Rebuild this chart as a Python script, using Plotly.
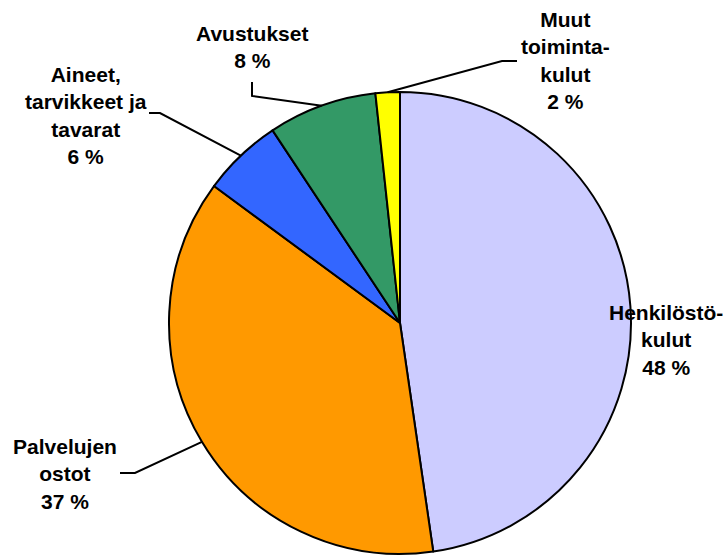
import math
import plotly.graph_objects as go

# ---- data ----
categories = ["Henkilöstökulut", "Palvelujen ostot", "Aineet, tarvikkeet ja tavarat",
              "Avustukset", "Muut toimintakulut"]
label_lines = ["Henkilöstö-<br>kulut", "Palvelujen<br>ostot", "Aineet,<br>tarvikkeet ja<br>tavarat",
               "Avustukset", "Muut<br>toiminta-<br>kulut"]
values = [47.7, 37.4, 5.6, 7.6, 1.7]
colors = ["#CCCCFF", "#FF9900", "#3366FF", "#339966", "#FFFF00"]

# ---- layout helpers (pixels) ----
W, H = 723, 556
CX, CY, R = 400, 323, 231
label_pos = [(666, 340), (65, 474), (86, 115), (252, 47), (565, 60)]
# leader line: start point and elbow point (None = no leader)
leaders = [None, [(120, 473), (135, 473)], [(149, 113), (160, 113)],
           [(252, 82), (252, 96)], [(517, 61), (502, 61)]]


def px(x):
    return x / W


def py(y):
    return 1 - y / H


total = sum(values)
fig = go.Figure(go.Pie(
    labels=categories, values=values, sort=False, direction="clockwise", rotation=0,
    marker=dict(colors=colors, line=dict(color="black", width=2)),
    textinfo="none", showlegend=False, hoverinfo="label+percent",
    domain=dict(x=[px(CX - R), px(CX + R)], y=[py(CY + R), py(CY - R)]),
))

annotations = []
shapes = []
cum = 0.0
for i, v in enumerate(values):
    pct = round(v / total * 100)
    lx, ly = label_pos[i]
    annotations.append(dict(
        x=px(lx), y=py(ly), xref="paper", yref="paper", showarrow=False,
        xanchor="center", yanchor="middle", align="center",
        text=f"<b>{label_lines[i]}<br>{pct} %</b>",
        font=dict(family="Liberation Sans, Arial, sans-serif", size=21, color="black"),
    ))
    theta = 2 * math.pi * (cum + v / 2) / total
    ex, ey = CX + R * math.sin(theta), CY - R * math.cos(theta)
    if leaders[i]:
        (sx, sy), (bx, by) = leaders[i]
        path = f"M {px(sx)} {py(sy)} L {px(bx)} {py(by)} L {px(ex)} {py(ey)}"
        shapes.append(dict(type="path", path=path, xref="paper", yref="paper",
                           line=dict(color="black", width=2)))
    cum += v

fig.update_layout(
    width=W, height=H, margin=dict(l=0, r=0, t=0, b=0),
    paper_bgcolor="white", plot_bgcolor="white",
    annotations=annotations, shapes=shapes,
)
fig.write_html("out.html", config={"displayModeBar": False},
               post_script="document.body.style.margin='0';")
